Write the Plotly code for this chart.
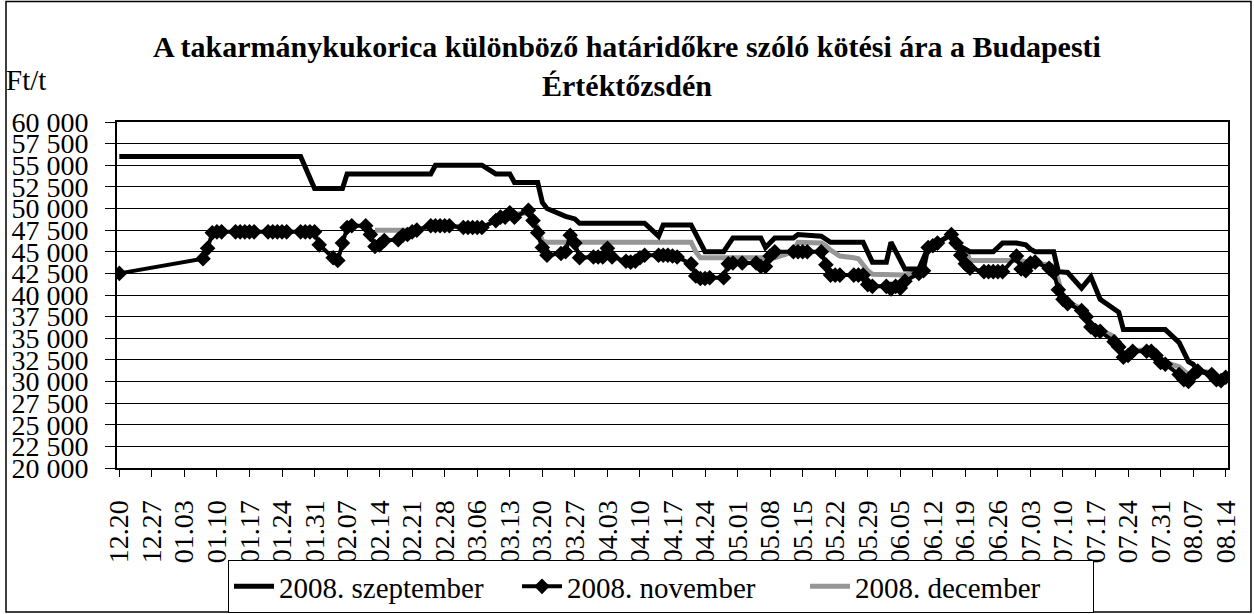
import plotly.graph_objects as go

W, H = 1254, 614
ML, MR, MT, MB = 117, 26, 122, 146

# ---- data ----
tick_dates = ["2007-12-20", "2007-12-27", "2008-01-03", "2008-01-10", "2008-01-17", "2008-01-24",
              "2008-01-31", "2008-02-07", "2008-02-14", "2008-02-21", "2008-02-28", "2008-03-06",
              "2008-03-13", "2008-03-20", "2008-03-27", "2008-04-03", "2008-04-10", "2008-04-17",
              "2008-04-24", "2008-05-01", "2008-05-08", "2008-05-15", "2008-05-22", "2008-05-29",
              "2008-06-05", "2008-06-12", "2008-06-19", "2008-06-26", "2008-07-03", "2008-07-10",
              "2008-07-17", "2008-07-24", "2008-07-31", "2008-08-07", "2008-08-14"]
tick_labels = ["12.20", "12.27", "01.03", "01.10", "01.17", "01.24", "01.31", "02.07", "02.14",
               "02.21", "02.28", "03.06", "03.13", "03.20", "03.27", "04.03", "04.10", "04.17",
               "04.24", "05.01", "05.08", "05.15", "05.22", "05.29", "06.05", "06.12", "06.19",
               "06.26", "07.03", "07.10", "07.17", "07.24", "07.31", "08.07", "08.14"]

y_tickvals = [20000, 22500, 25000, 27500, 30000, 32500, 35000, 37500, 40000,
              42500, 45000, 47500, 50000, 52500, 55000, 57500, 60000]
y_ticktext = ["20 000", "22 500", "25 000", "27 500", "30 000", "32 500", "35 000", "37 500", "40 000",
              "42 500", "45 000", "47 500", "50 000", "52 500", "55 000", "57 500", "60 000"]

sep_dates = ["2007-12-20", "2008-01-28", "2008-01-31", "2008-02-06", "2008-02-07", "2008-02-25",
             "2008-02-26", "2008-03-07", "2008-03-10", "2008-03-13", "2008-03-14", "2008-03-19",
             "2008-03-20", "2008-03-21", "2008-03-25", "2008-03-26", "2008-03-27", "2008-03-28",
             "2008-04-11", "2008-04-14", "2008-04-15", "2008-04-21", "2008-04-24", "2008-04-28",
             "2008-04-30", "2008-05-06", "2008-05-07", "2008-05-09", "2008-05-13", "2008-05-14",
             "2008-05-19", "2008-05-21", "2008-05-28", "2008-05-30", "2008-06-02", "2008-06-03",
             "2008-06-06", "2008-06-09", "2008-06-11", "2008-06-12", "2008-06-13", "2008-06-16",
             "2008-06-17", "2008-06-18", "2008-06-20", "2008-06-25", "2008-06-27", "2008-06-30",
             "2008-07-02", "2008-07-03", "2008-07-04", "2008-07-08", "2008-07-09", "2008-07-11",
             "2008-07-14", "2008-07-16", "2008-07-18", "2008-07-22", "2008-07-23", "2008-08-01",
             "2008-08-04", "2008-08-06", "2008-08-07", "2008-08-08", "2008-08-11", "2008-08-12",
             "2008-08-13", "2008-08-14"]
sep_values = [56000, 56000, 52300, 52300, 54000, 54000,
              55000, 55000, 54000, 54000, 53000, 53000,
              50700, 50000, 49100, 49000, 48800, 48300,
              48300, 46800, 48100, 48100, 45000, 45000,
              46600, 46600, 45500, 46600, 46600, 47000,
              46800, 46100, 46100, 43800, 43800, 46100,
              43000, 43000, 45500, 45700, 46000, 47000,
              46300, 45600, 45000, 45000, 46000, 46000,
              45800, 45300, 45000, 45000, 42700, 42600,
              40800, 42100, 39500, 38000, 36000, 36000,
              34500, 32300, 32000, 31300, 30800, 30200,
              30100, 30500]

nov_dates = ["2007-12-20",
             "2008-01-07", "2008-01-08", "2008-01-09", "2008-01-10", "2008-01-11",
             "2008-01-14", "2008-01-15", "2008-01-16", "2008-01-17", "2008-01-18",
             "2008-01-21", "2008-01-22", "2008-01-23", "2008-01-24", "2008-01-25",
             "2008-01-28", "2008-01-29", "2008-01-30", "2008-01-31", "2008-02-01",
             "2008-02-04", "2008-02-05", "2008-02-06", "2008-02-07", "2008-02-08",
             "2008-02-11", "2008-02-12", "2008-02-13", "2008-02-14", "2008-02-15",
             "2008-02-18", "2008-02-19", "2008-02-20", "2008-02-21", "2008-02-22",
             "2008-02-25", "2008-02-26", "2008-02-27", "2008-02-28", "2008-02-29",
             "2008-03-03", "2008-03-04", "2008-03-05", "2008-03-06", "2008-03-07",
             "2008-03-10", "2008-03-11", "2008-03-12", "2008-03-13", "2008-03-14",
             "2008-03-17", "2008-03-18", "2008-03-19", "2008-03-20", "2008-03-21",
             "2008-03-24", "2008-03-25", "2008-03-26", "2008-03-27", "2008-03-28",
             "2008-03-31", "2008-04-01", "2008-04-02", "2008-04-03", "2008-04-04",
             "2008-04-07", "2008-04-08", "2008-04-09", "2008-04-10", "2008-04-11",
             "2008-04-14", "2008-04-15", "2008-04-16", "2008-04-17", "2008-04-18",
             "2008-04-21", "2008-04-22", "2008-04-23", "2008-04-24", "2008-04-25",
             "2008-04-28", "2008-04-29", "2008-04-30", "2008-05-02",
             "2008-05-05", "2008-05-06", "2008-05-07", "2008-05-08", "2008-05-09",
             "2008-05-13", "2008-05-14", "2008-05-15", "2008-05-16",
             "2008-05-19", "2008-05-20", "2008-05-21", "2008-05-22", "2008-05-23",
             "2008-05-26", "2008-05-27", "2008-05-28", "2008-05-29", "2008-05-30",
             "2008-06-02", "2008-06-03", "2008-06-04", "2008-06-05", "2008-06-06",
             "2008-06-09", "2008-06-10", "2008-06-11", "2008-06-12", "2008-06-13",
             "2008-06-16", "2008-06-17", "2008-06-18", "2008-06-19", "2008-06-20",
             "2008-06-23", "2008-06-24", "2008-06-25", "2008-06-26", "2008-06-27",
             "2008-06-30", "2008-07-01", "2008-07-02", "2008-07-03", "2008-07-04",
             "2008-07-07", "2008-07-08", "2008-07-09", "2008-07-10", "2008-07-11",
             "2008-07-14", "2008-07-15", "2008-07-16", "2008-07-17", "2008-07-18",
             "2008-07-21", "2008-07-22", "2008-07-23", "2008-07-24", "2008-07-25",
             "2008-07-28", "2008-07-29", "2008-07-30", "2008-07-31", "2008-08-01",
             "2008-08-04", "2008-08-05", "2008-08-06", "2008-08-07", "2008-08-08",
             "2008-08-11", "2008-08-12", "2008-08-13", "2008-08-14"]
nov_values = [42500,
              44200, 45400, 47200, 47300, 47300,
              47300, 47300, 47300, 47300, 47300,
              47300, 47300, 47300, 47300, 47300,
              47300, 47300, 47300, 47300, 45800,
              44300, 44000, 46000, 47800, 48000,
              48000, 47000, 45600, 45800, 46300,
              46400, 46900, 47000, 47300, 47500,
              48000, 48000, 48000, 48000, 48000,
              47800, 47800, 47800, 47800, 47800,
              48600, 49000, 49000, 49500, 49000,
              49800, 48600, 47200, 45500, 44600,
              44800, 45000, 46900, 46000, 44300,
              44400, 44400, 44400, 45400, 44400,
              43900, 43800, 43900, 44300, 44600,
              44600, 44600, 44600, 44500, 44400,
              43600, 42200, 41900, 41900, 42000,
              42000, 43600, 43700, 43700,
              43700, 43300, 43300, 44500, 45000,
              45000, 45000, 45000, 45000,
              45000, 43500, 42300, 42300, 42300,
              42300, 42300, 42300, 41200, 41000,
              41000, 40700, 41000, 40800, 41600,
              42500, 42800, 45500, 45700, 46000,
              47000, 46000, 44600, 43600, 43100,
              42700, 42700, 42700, 42700, 42700,
              44500, 43000, 42800, 43700, 43800,
              43100, 42600, 40600, 39500, 39000,
              38200, 37500, 36300, 35900, 35800,
              34600, 34000, 32800, 33000, 33500,
              33500, 33500, 33000, 32200, 32000,
              30800, 30200, 30000, 30800, 31200,
              30800, 30200, 30100, 30500]

dec_dates = ["2008-02-13", "2008-02-22", "2008-02-25", "2008-02-29", "2008-03-03", "2008-03-07",
             "2008-03-10", "2008-03-13", "2008-03-17", "2008-03-18", "2008-03-19", "2008-03-20",
             "2008-03-21", "2008-04-21", "2008-04-22", "2008-04-23", "2008-05-09", "2008-05-13",
             "2008-05-14", "2008-05-19", "2008-05-20", "2008-05-21", "2008-05-22", "2008-05-23",
             "2008-05-26", "2008-05-27", "2008-05-28", "2008-05-29", "2008-05-30", "2008-06-06",
             "2008-06-09", "2008-06-10", "2008-06-11", "2008-06-12", "2008-06-13", "2008-06-16",
             "2008-06-17", "2008-06-18", "2008-06-19", "2008-06-20", "2008-07-01", "2008-07-02",
             "2008-07-03", "2008-07-07", "2008-07-08", "2008-07-09", "2008-07-10", "2008-07-11",
             "2008-07-14", "2008-07-15", "2008-07-16", "2008-07-17", "2008-07-18", "2008-07-21",
             "2008-07-22", "2008-07-23", "2008-07-24", "2008-07-25", "2008-07-29", "2008-07-30",
             "2008-07-31", "2008-08-01", "2008-08-04", "2008-08-05", "2008-08-06", "2008-08-07",
             "2008-08-08", "2008-08-11", "2008-08-12", "2008-08-13", "2008-08-14"]
dec_values = [47500, 47500, 48000, 48000, 47800, 47800,
              48600, 49300, 49500, 48700, 47800, 46200,
              46100, 46100, 45000, 44300, 44300, 45000,
              46100, 46000, 45700, 45200, 44800, 44500,
              44300, 44200, 43500, 42800, 42400, 42300,
              42700, 43000, 45500, 45700, 46000, 47000,
              46300, 45600, 45300, 44000, 44000, 43900,
              43700, 43500, 43300, 41700, 39700, 39200,
              38400, 37700, 36500, 36000, 36000, 35200,
              34300, 33200, 33300, 33600, 33600, 33200,
              32600, 32200, 31700, 31200, 30800, 31000,
              31300, 31000, 30500, 30300, 30600]

series_names = ["2008. szeptember", "2008. november", "2008. december"]

FONT = "Liberation Serif"

fig = go.Figure()
fig.add_trace(go.Scatter(x=dec_dates, y=dec_values, mode="lines", name=series_names[2],
                         line=dict(color="#969696", width=5), legendrank=3))
fig.add_trace(go.Scatter(x=sep_dates, y=sep_values, mode="lines", name=series_names[0],
                         line=dict(color="black", width=5), legendrank=1))
fig.add_trace(go.Scatter(x=nov_dates, y=nov_values, mode="lines+markers", name=series_names[1],
                         line=dict(color="black", width=4),
                         marker=dict(symbol="diamond", size=12, color="black"), legendrank=2))

pw = W - ML - MR
ph = H - MT - MB

def px_x(p):
    return (p - ML) / pw

def px_y(p):
    return (H - MB - p) / ph

fig.update_layout(
    width=W, height=H,
    margin=dict(l=ML, r=MR, t=MT, b=MB, autoexpand=False),
    paper_bgcolor="white", plot_bgcolor="white",
    font=dict(family=FONT, size=29, color="black"),
    title=dict(text="<b>A takarmánykukorica különböző határidőkre szóló kötési ára a Budapesti<br>Értéktőzsdén</b>",
               x=0.5, xanchor="center", y=1 - 57 / H, yanchor="middle",
               font=dict(family=FONT, size=30, color="black")),
    showlegend=True,
    legend=dict(orientation="h", x=px_x(228), y=px_y(560), xanchor="left", yanchor="top",
                bordercolor="black", borderwidth=1, bgcolor="white",
                font=dict(family=FONT, size=29), itemwidth=40, tracegroupgap=0,
                entrywidth=233),
    xaxis=dict(type="date",
               range=["2007-12-19 12:00", "2008-08-14 12:00"],
               tickmode="array", tickvals=tick_dates, ticktext=tick_labels,
               tickangle=-90, ticks="outside", ticklen=7, tickcolor="black", tickwidth=1,
               showline=True, linecolor="black", linewidth=2, mirror=True,
               showgrid=False, zeroline=False,
               tickfont=dict(family=FONT, size=28), ticklabelstandoff=12),
    yaxis=dict(range=[20000, 60000], tickmode="array", tickvals=y_tickvals, ticktext=y_ticktext,
               ticks="outside", ticklen=10, tickcolor="black", tickwidth=1,
               showline=True, linecolor="black", linewidth=2, mirror=True,
               showgrid=True, gridcolor="black", gridwidth=1, zeroline=False,
               tickfont=dict(family=FONT, size=28), ticklabelstandoff=11),
    annotations=[dict(text="Ft/t", xref="paper", yref="paper", x=px_x(4), y=px_y(80),
                      xanchor="left", yanchor="middle", showarrow=False,
                      font=dict(family=FONT, size=29, color="black"))],
    shapes=[dict(type="rect", xref="paper", yref="paper",
                 x0=px_x(6), x1=px_x(1251), y0=px_y(612), y1=px_y(1.5),
                 line=dict(color="black", width=1.5), fillcolor="rgba(0,0,0,0)", layer="below")],
)

fig.write_html("out.html", config={"displayModeBar": False},
               post_script="document.body.style.margin='0';")
